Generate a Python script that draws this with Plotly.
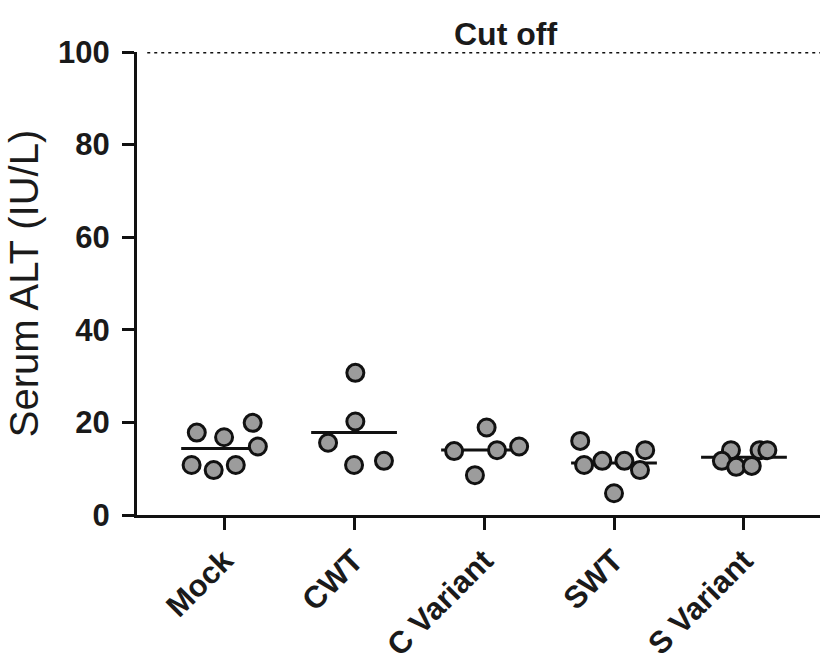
import plotly.graph_objects as go
import numpy as np

categories = ["Mock", "CWT", "C Variant", "SWT", "S Variant"]

# Serum ALT values (IU/L) per group
mock_vals = [17.8, 16.8, 19.9, 14.8, 10.8, 9.7, 10.8]
cwt_vals = [30.7, 20.2, 15.6, 10.8, 11.7]
cvar_vals = [13.8, 18.9, 14.0, 14.8, 8.6]
swt_vals = [16.0, 10.8, 11.7, 11.7, 14.0, 9.7, 4.7]
svar_vals = [14.0, 11.7, 10.4, 10.6, 14.0, 14.0]

# horizontal scatter (jitter) of each point within its group, in category units
mock_jit = [-0.21, 0.00, 0.22, 0.26, -0.25, -0.08, 0.09]
cwt_jit = [0.01, 0.01, -0.20, 0.00, 0.23]
cvar_jit = [-0.23, 0.02, 0.10, 0.27, -0.07]
swt_jit = [-0.26, -0.23, -0.09, 0.08, 0.24, 0.20, 0.00]
svar_jit = [-0.10, -0.17, -0.06, 0.06, 0.12, 0.18]

cutoff = 100
y_ticks = [0, 20, 40, 60, 80, 100]

groups = [mock_vals, cwt_vals, cvar_vals, swt_vals, svar_vals]
jitters = [mock_jit, cwt_jit, cvar_jit, swt_jit, svar_jit]

FONT = "Liberation Sans, Arial, sans-serif"
fig = go.Figure()

# mean lines
half = 0.33
for i, vals in enumerate(groups):
    m = float(np.mean(vals))
    fig.add_trace(go.Scatter(
        x=[i - half, i + half], y=[m, m], mode="lines",
        line=dict(color="#111111", width=3), showlegend=False,
        hoverinfo="skip", cliponaxis=False))

# points
for i, (vals, jit) in enumerate(zip(groups, jitters)):
    fig.add_trace(go.Scatter(
        x=[i + j for j in jit], y=vals, mode="markers",
        marker=dict(size=17, color="#9c9c9c", line=dict(color="#111111", width=3)),
        showlegend=False, name=categories[i], cliponaxis=False))

# cut-off line
fig.add_shape(type="line", xref="paper", yref="y", x0=0.015, x1=1, y0=cutoff, y1=cutoff,
              line=dict(color="#111111", width=3, dash="3px,4px"))
fig.add_annotation(xref="paper", yref="paper", x=0.539, y=1.0, yshift=38,
                   text="<b>Cut off</b>", showarrow=False,
                   font=dict(family=FONT, size=32, color="#1a1a1a"))

fig.update_layout(
    width=821, height=657,
    margin=dict(l=137, r=1, t=52, b=142, autoexpand=False),
    plot_bgcolor="white", paper_bgcolor="white",
    font=dict(family=FONT, color="#1a1a1a"),
)
fig.update_xaxes(
    range=[-0.67, 4.585], automargin=False,
    tickmode="array", tickvals=list(range(len(categories))),
    ticktext=["<b>%s</b>" % c for c in categories],
    tickangle=-45, tickfont=dict(family=FONT, size=31, color="#1a1a1a"),
    showline=True, linecolor="#111111", linewidth=3,
    ticks="outside", ticklen=12, tickwidth=3, tickcolor="#111111",
    showgrid=False, zeroline=False,
)
fig.update_yaxes(
    range=[0, 100], automargin=False,
    tickmode="array", tickvals=y_ticks, ticktext=["<b>%d</b>" % v for v in y_ticks],
    tickfont=dict(family=FONT, size=31, color="#1a1a1a"),
    showline=True, linecolor="#111111", linewidth=3,
    ticks="outside", ticklen=12, tickwidth=3, tickcolor="#111111",
    ticklabelstandoff=6,
    showgrid=False, zeroline=False,
    title=dict(text="Serum ALT (IU/L)", font=dict(family=FONT, size=40, color="#1a1a1a"),
               standoff=8),
)

fig.write_html("out.html")
